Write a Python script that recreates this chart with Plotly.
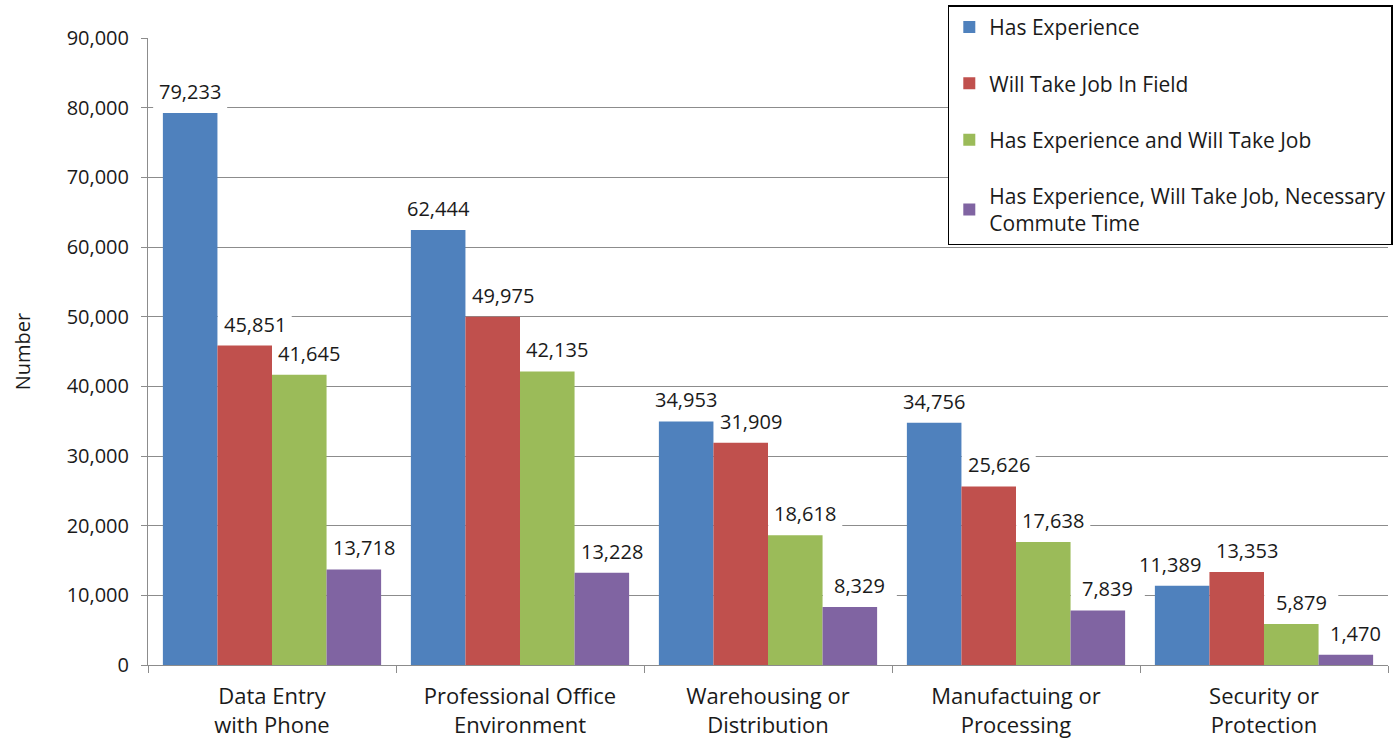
import plotly.graph_objects as go

categories = [
    "Data Entry<br>with Phone",
    "Professional Office<br>Environment",
    "Warehousing or<br>Distribution",
    "Manufactuing or<br>Processing",
    "Security or<br>Protection",
]
series_names = [
    "Has Experience",
    "Will Take Job In Field",
    "Has Experience and Will Take Job",
    "Has Experience, Will Take Job, Necessary<br>Commute Time",
]
has_experience = [79233, 62444, 34953, 34756, 11389]
will_take_job = [45851, 49975, 31909, 25626, 13353]
exp_and_take = [41645, 42135, 18618, 17638, 5879]
exp_take_commute = [13718, 13228, 8329, 7839, 1470]
colors = ["#4F81BD", "#C0504D", "#9BBB59", "#8064A2"]

series_values = [has_experience, will_take_job, exp_and_take, exp_take_commute]

FONT = "Open Sans"
TEXT_COLOR = "#1a1a1a"
GRID = "#8c8c8c"

n_series = len(series_values)
group_width = 0.88
bar_w = group_width / n_series
base_x = list(range(len(categories)))


def label_nudge(j, i):
    """Horizontal pixel shift that keeps neighbouring value labels apart."""
    v = series_values[j][i]
    if j < n_series - 1 and series_values[j + 1][i] > v:
        return -12
    if j > 0 and series_values[j - 1][i] > v - 5000:
        return 10
    return 0


fig = go.Figure()
annotations = []
shapes = []
for j, (name, vals, col) in enumerate(zip(series_names, series_values, colors)):
    off = (j - (n_series - 1) / 2) * bar_w
    xs = [x + off for x in base_x]
    fig.add_trace(go.Bar(
        x=xs, y=vals, width=bar_w, name=name,
        marker=dict(color=col, line=dict(width=0)),
        legendgroup=f"g{j}",
    ))
    for i, (x, v) in enumerate(zip(xs, vals)):
        nudge = label_nudge(j, i)
        annotations.append(dict(
            x=x, y=v, xref="x", yref="y", text=f"{v:,}",
            showarrow=False, yanchor="bottom", yshift=6, xshift=nudge,
            font=dict(family=FONT, size=20, color=TEXT_COLOR),
        ))
        # white patch behind the label, masking the gridlines only
        shapes.append(dict(
            type="rect", layer="between", xref="x", yref="y",
            xsizemode="pixel", ysizemode="pixel",
            xanchor=x, yanchor=v,
            x0=nudge - 37, x1=nudge + 37, y0=4, y1=34,
            fillcolor="white", line=dict(width=0),
        ))

fig.update_layout(
    width=1400, height=741,
    margin=dict(l=148, r=12, t=38, b=76, autoexpand=False),
    paper_bgcolor="white", plot_bgcolor="white",
    font=dict(family=FONT, size=20, color=TEXT_COLOR),
    annotations=annotations,
    shapes=shapes,
    showlegend=True,
    legend=dict(
        x=0.645, y=1.052, xanchor="left", yanchor="top",
        bgcolor="white", bordercolor="black", borderwidth=1.5,
        tracegroupgap=26, traceorder="grouped", itemwidth=30,
        font=dict(family=FONT, size=21, color=TEXT_COLOR),
    ),
    xaxis=dict(
        range=[-0.5, len(categories) - 0.5],
        tickvals=base_x, ticktext=categories,
        ticks="", showgrid=False, ticklabelstandoff=12,
        showline=True, linecolor=GRID, linewidth=1,
        minor=dict(tick0=-0.5, dtick=1, ticks="outside", ticklen=7,
                   tickcolor=GRID, showgrid=False),
        tickfont=dict(family=FONT, size=22, color=TEXT_COLOR),
    ),
    yaxis=dict(
        range=[0, 90000], dtick=10000, tickformat=",",
        showgrid=True, gridcolor=GRID, gridwidth=1,
        showline=True, linecolor=GRID, linewidth=1,
        ticks="outside", ticklen=6, tickcolor=GRID, ticklabelstandoff=8,
        tickfont=dict(family=FONT, size=20, color=TEXT_COLOR),
        zeroline=False,
        title=dict(text="Number", font=dict(family=FONT, size=20, color=TEXT_COLOR), standoff=30),
    ),
)

fig.write_html("out.html")
